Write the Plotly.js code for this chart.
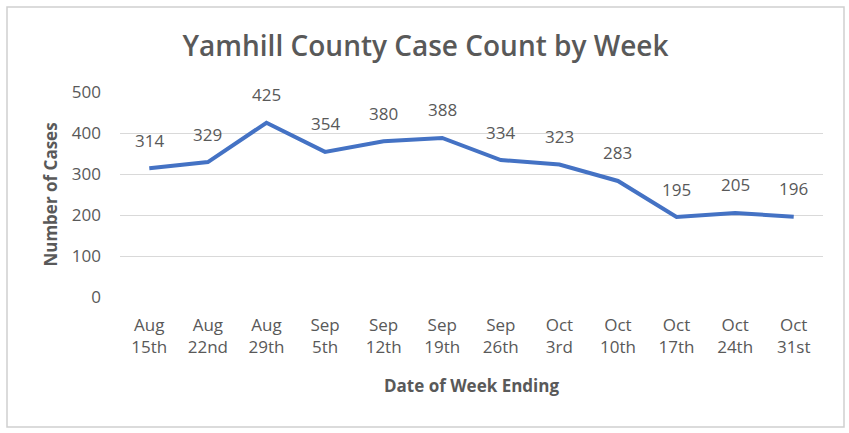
<!DOCTYPE html>
<html>
<head>
<meta charset="utf-8">
<script src="https://cdn.plot.ly/plotly-3.0.1.min.js"></script>
<style>
html,body{margin:0;padding:0;background:#fff;}
#chart{width:849px;height:433px;}
</style>
</head>
<body>
<div id="chart"></div>
<script>
const weeks = ["Aug<br>15th","Aug<br>22nd","Aug<br>29th","Sep<br>5th","Sep<br>12th","Sep<br>19th","Sep<br>26th","Oct<br>3rd","Oct<br>10th","Oct<br>17th","Oct<br>24th","Oct<br>31st"];
const cases = [314, 329, 425, 354, 380, 388, 334, 323, 283, 195, 205, 196];
const yTicks = [0, 100, 200, 300, 400, 500];

const gray = "#595959";
const font = "'Open Sans', 'Noto Sans', sans-serif";

const trace = {
  x: weeks,
  y: cases,
  type: "scatter",
  mode: "lines",
  line: {color: "#4472C4", width: 4},
  hoverinfo: "x+y"
};

const annotations = weeks.map((w, i) => ({
  x: w, y: cases[i], xref: "x", yref: "y",
  text: String(cases[i]), showarrow: false,
  yshift: 28, font: {family: font, size: 17, color: gray}
}));

const layout = {
  width: 849, height: 433,
  margin: {l: 120, r: 26, t: 92, b: 136},
  paper_bgcolor: "#fff", plot_bgcolor: "#fff",
  font: {family: font, color: gray},
  showlegend: false,
  title: {text: "Yamhill County Case Count by Week", x: 425.5/849, xref: "container", xanchor: "center",
          y: 1 - 46/433, yref: "container", yanchor: "middle",
          font: {family: font, size: 28, weight: 600, color: gray}},
  xaxis: {
    type: "category", range: [-0.5, weeks.length - 0.5],
    showgrid: false, zeroline: false, showline: false, ticks: "",
    tickfont: {family: font, size: 17, color: gray},
    ticklabelstandoff: 16,
    title: {text: "<b>Date of Week Ending</b>", font: {family: font, size: 17, color: gray}, standoff: 23}
  },
  yaxis: {
    range: [0, 500], tickvals: yTicks, ticktext: yTicks.map(String),
    showgrid: true, gridcolor: "#d9d9d9", gridwidth: 1,
    zeroline: false, showline: false, ticks: "",
    tickfont: {family: font, size: 17, color: gray},
    ticklabelstandoff: 18,
    title: {text: "<b>Number of Cases</b>", font: {family: font, size: 17, color: gray}, standoff: 9}
  },
  shapes: [{
    type: "rect", xref: "paper", yref: "paper",
    x0: (7 - 120) / 703, x1: (844 - 120) / 703,
    y0: (297 - 427) / 205, y1: (297 - 7) / 205,
    line: {color: "#d0d0d0", width: 1.5}, fillcolor: "rgba(0,0,0,0)", layer: "below"
  }],
  annotations: annotations
};

Plotly.newPlot("chart", [trace], layout, {displayModeBar: false, staticPlot: true});
</script>
</body>
</html>
